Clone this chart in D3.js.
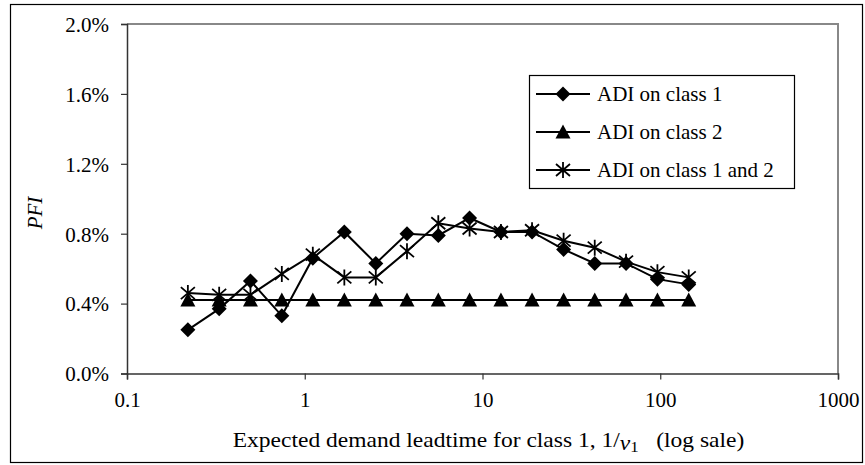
<!DOCTYPE html>
<html><head><meta charset="utf-8">
<script src="https://cdn.jsdelivr.net/npm/d3@7"></script>
<style>body{margin:0;background:#fff}svg{display:block}svg text{font-family:"Liberation Serif","Times New Roman",Tinos,"DejaVu Serif",serif !important;fill:#000}</style>
</head><body><svg id="c" width="865" height="465"></svg>
<script>
const xValues = [0.22,0.33,0.495,0.743,1.11,1.67,2.51,3.76,5.64,8.46,12.7,19.0,28.6,42.8,64.2,96.4,144.6];
const class1 = [0.25,0.37,0.53,0.33,0.66,0.81,0.63,0.80,0.79,0.89,0.81,0.81,0.71,0.63,0.63,0.54,0.51];
const class2 = [0.42,0.42,0.42,0.42,0.42,0.42,0.42,0.42,0.42,0.42,0.42,0.42,0.42,0.42,0.42,0.42,0.42];
const class12 = [0.46,0.45,0.45,0.57,0.68,0.55,0.55,0.70,0.86,0.83,0.81,0.82,0.76,0.72,0.64,0.58,0.55];
const seriesNames = ["ADI on class 1","ADI on class 2","ADI on class 1 and 2"];
const xTicks = [0.1,1,10,100,1000];
const yTicks = [0,0.4,0.8,1.2,1.6,2.0];

const svg = d3.select("#c");
const L=127,R=838,T=24,B=373.5;
const x = d3.scaleLog().domain([0.1,1000]).range([L,R]);
const y = d3.scaleLinear().domain([0,2.0]).range([B,T]);
const FF = '"Liberation Serif","Times New Roman",Tinos,"DejaVu Serif",serif';

svg.append("rect").attr("x",10.5).attr("y",4.5).attr("width",852).attr("height",458)
  .attr("fill","none").attr("stroke","#000").attr("stroke-width",1.2);
svg.append("path").attr("d",`M${L},${T}H${R}V${B}`).attr("fill","none").attr("stroke","#888").attr("stroke-width",2);

const fs = 21;
const ya = svg.append("g").attr("transform",`translate(${L},0)`)
  .call(d3.axisLeft(y).tickValues(yTicks).tickSize(6).tickPadding(12).tickFormat(d=>d.toFixed(1)+"%"));
ya.attr("font-family",FF);
ya.select(".domain").attr("stroke","#333").attr("stroke-width",1.5);
ya.selectAll(".tick line").attr("stroke","#333").attr("stroke-width",1.2);
ya.selectAll(".tick text").attr("font-size",fs).attr("dy","0.35em");

const xa = svg.append("g").attr("transform",`translate(0,${B})`)
  .call(d3.axisBottom(x).tickValues(xTicks).tickSize(6).tickPadding(13).tickFormat(d=>String(d)));
xa.attr("font-family",FF);
xa.select(".domain").attr("stroke","#333").attr("stroke-width",1.5);
xa.selectAll(".tick line").attr("stroke","#333").attr("stroke-width",1.2);
xa.selectAll(".tick text").attr("font-size",fs);

svg.append("text").attr("transform","translate(42,213) rotate(-90)").attr("text-anchor","middle")
  .attr("font-size",fs).attr("font-style","italic").text("PFI");
const xt = svg.append("text").attr("transform",`translate(${(L+R)/2+6},447) scale(1.12,1)`)
  .attr("text-anchor","middle").attr("font-size",fs);
xt.append("tspan").text("Expected demand leadtime for class 1, 1/");
xt.append("tspan").attr("font-style","italic").attr("dy",3).text("ν");
xt.append("tspan").attr("font-size",15).attr("dy",2).text("1");
xt.append("tspan").attr("dy",-5).text("\u00a0\u00a0 (log sale)");

function drawMarker(g,type){
  if(type===0){
    g.append("path").attr("d","M0,-7.5L7.5,0L0,7.5L-7.5,0Z").attr("fill","#000");
  } else if(type===1){
    g.append("path").attr("d","M0,-7.5L7.5,6.5L-7.5,6.5Z").attr("fill","#000");
  } else {
    g.append("path").attr("d","M0,-8V8M-7,-6L7,6M-7,6L7,-6").attr("stroke","#000").attr("stroke-width",1.8).attr("fill","none");
  }
}
const allSeries = [class1,class2,class12];
const line = d3.line().x((d,i)=>x(xValues[i])).y(d=>y(d));
const drawOrder=[1,2,0];
drawOrder.forEach(s=>{
  svg.append("path").datum(allSeries[s]).attr("d",line).attr("fill","none").attr("stroke","#000").attr("stroke-width",2);
});
drawOrder.forEach(s=>{
  allSeries[s].forEach((v,i)=>{
    const g = svg.append("g").attr("transform",`translate(${x(xValues[i])},${y(v)})`);
    drawMarker(g,s);
  });
});

svg.append("rect").attr("x",529.5).attr("y",75.5).attr("width",265).attr("height",113)
  .attr("fill","#fff").attr("stroke","#000").attr("stroke-width",1.2);
const rowsY=[94,132,170];
seriesNames.forEach((n,s)=>{
  const g = svg.append("g");
  g.append("line").attr("x1",536).attr("x2",590).attr("y1",rowsY[s]).attr("y2",rowsY[s]).attr("stroke","#000").attr("stroke-width",2);
  drawMarker(g.append("g").attr("transform",`translate(563,${rowsY[s]})`),s);
  g.append("text").attr("x",597).attr("y",rowsY[s]).attr("dy","0.33em").attr("font-size",fs).text(n);
});
</script></body></html>
